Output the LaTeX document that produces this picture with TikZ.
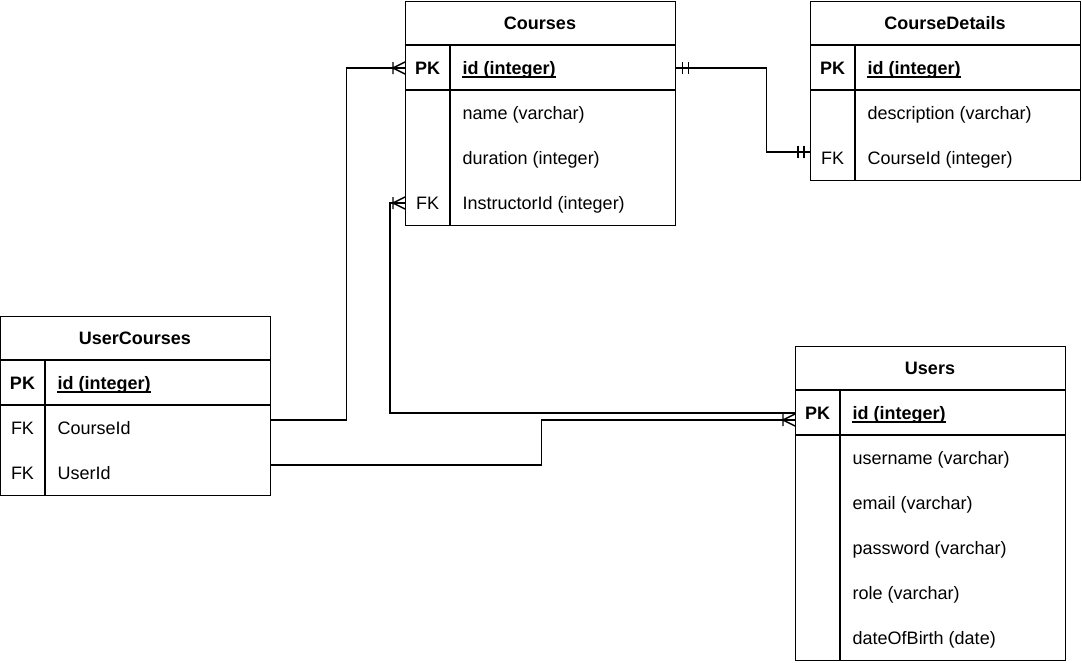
\documentclass[tikz,border=0pt]{standalone}
\usepackage{fontspec}
\setmainfont{Liberation Sans}
\usetikzlibrary{calc}
\begin{document}
\begin{tikzpicture}[x=1pt,y=-1pt,
  line width=1.4pt,
  tbl/.style={draw,rectangle,anchor=north west,inner sep=0pt},
  txt/.style={font=\fontsize{18}{22}\selectfont,inner sep=0pt,text height=12.9pt,text depth=0pt},
  hdr/.style={txt,font=\fontsize{18}{22}\selectfont\bfseries},
  keyb/.style={txt,font=\fontsize{18}{22}\selectfont\bfseries},
  keyn/.style={txt},
  fld/.style={txt,anchor=west},
  pkf/.style={txt,font=\fontsize{18}{22}\selectfont\bfseries,anchor=west},
  uln/.style={line width=1.2pt},
  conn/.style={line width=1.4pt},
  crow/.pic={\draw[line width=1.4pt] (-12,0) -- (0,-6) (-12,0) -- (0,6) (-12,-6) -- (-12,6);},
  onebar/.pic={\draw[line width=1.4pt] (-6,-6) -- (-6,6) (-12,-6) -- (-12,6);}
]
\useasboundingbox (0,0) rectangle (1082,662);
% Courses
\node[tbl,minimum width=270pt,minimum height=224pt] (courses) at (405,1) {};
\draw (405,45) -- (675,45) (405,90) -- (675,90) (450,45) -- (450,225);
\node[hdr] (c-h) at (540,23) {Courses};
\node[keyb] (c-pk) at (427.5,68) {PK};
\node[pkf] (c-id) at (462,68) {id (integer)};
\node[fld] (c-name) at (462,113) {name (varchar)};
\node[fld] (c-dur) at (462,158) {duration (integer)};
\node[keyn] (c-fk) at (427.5,203) {FK};
\node[fld] (c-iid) at (462,203) {InstructorId (integer)};
% CourseDetails
\node[tbl,minimum width=270pt,minimum height=179pt] (cd) at (810,1) {};
\draw (810,45) -- (1080,45) (810,90) -- (1080,90) (855,45) -- (855,180);
\node[hdr] (cd-h) at (945,23) {CourseDetails};
\node[keyb] (cd-pk) at (832.5,68) {PK};
\node[pkf] (cd-id) at (867,68) {id (integer)};
\node[fld] (cd-desc) at (867,113) {description (varchar)};
\node[keyn] (cd-fk) at (832.5,158) {FK};
\node[fld] (cd-cid) at (867,158) {CourseId (integer)};
% UserCourses
\node[tbl,minimum width=270pt,minimum height=179pt] (uc) at (0,316) {};
\draw (0,360) -- (270,360) (0,405) -- (270,405) (45,360) -- (45,495);
\node[hdr] (uc-h) at (135,338) {UserCourses};
\node[keyb] (uc-pk) at (22.5,383) {PK};
\node[pkf] (uc-id) at (57,383) {id (integer)};
\node[keyn] (uc-fk1) at (22.5,428) {FK};
\node[fld] (uc-cid) at (57,428) {CourseId};
\node[keyn] (uc-fk2) at (22.5,473) {FK};
\node[fld] (uc-uid) at (57,473) {UserId};
% Users
\node[tbl,minimum width=270pt,minimum height=314pt] (users) at (795,346) {};
\draw (795,390) -- (1065,390) (795,435) -- (1065,435) (840,390) -- (840,660);
\node[hdr] (u-h) at (930,368) {Users};
\node[keyb] (u-pk) at (817.5,413) {PK};
\node[pkf] (u-id) at (852,413) {id (integer)};
\node[fld] (u-un) at (852,458) {username (varchar)};
\node[fld] (u-em) at (852,503) {email (varchar)};
\node[fld] (u-pw) at (852,548) {password (varchar)};
\node[fld] (u-role) at (852,593) {role (varchar)};
\node[fld] (u-dob) at (852,638) {dateOfBirth (date)};
% underlines
\foreach \n in {c-id,cd-id,uc-id,u-id}
  \draw[uln] ($(\n.base west)+(0,2.5)$) -- ($(\n.base east)+(0,2.5)$);
% connectors
\draw[conn] ($(uc.east |- uc-cid)+(0,-8)$) -- ++(75,0) |- (courses.west |- c-id);
\pic at (courses.west |- c-id) {crow};
\draw[conn] ($(uc.east |- uc-uid)+(0,-8)$) -- ++(270,0) |- ($(users.west |- u-id)+(0,7)$);
\pic at ($(users.west |- u-id)+(0,7)$) {crow};
\draw[conn] (users.west |- u-id) -- ++(-405,0) |- (courses.west |- c-iid);
\pic at (courses.west |- c-iid) {crow};
\draw[conn] (courses.east |- c-id) -- ++(90,0) |- ($(cd.west |- cd-cid)+(0,-6)$);
\pic at ($(cd.west |- cd-cid)+(0,-6)$) {onebar};
\pic[rotate=180] at (courses.east |- c-id) {onebar};
\end{tikzpicture}
\end{document}
